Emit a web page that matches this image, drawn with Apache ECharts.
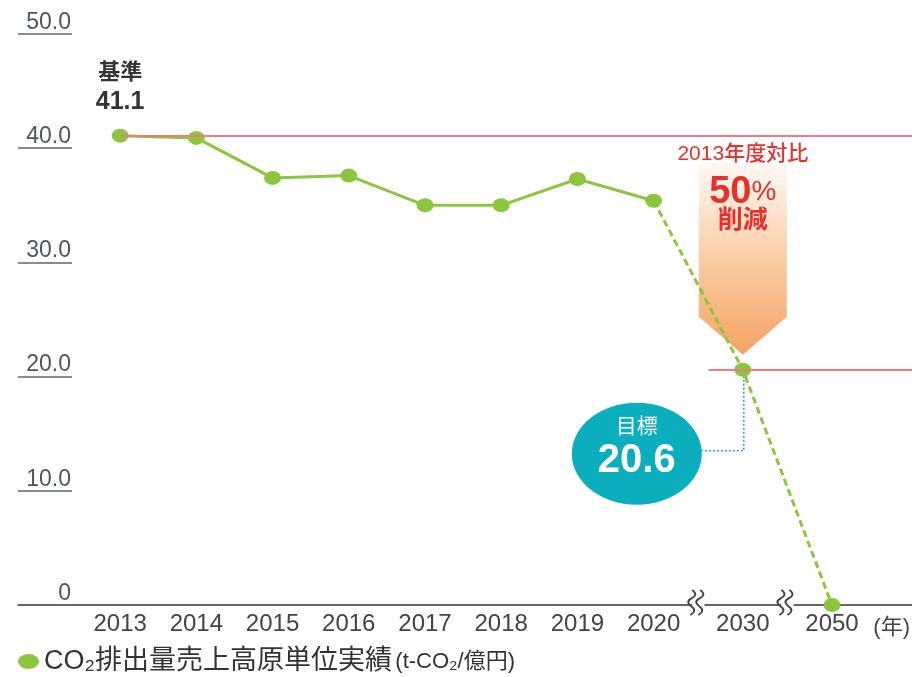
<!DOCTYPE html>
<html>
<head>
<meta charset="utf-8">
<script src="https://cdn.jsdelivr.net/npm/echarts@6/dist/echarts.min.js"></script>
<style>
html,body{margin:0;padding:0;background:#fff;}
#main{width:912px;height:677px;}
</style>
</head>
<body>
<div id="main"></div>
<script>
// ---- data ----
const actualYears = [2013, 2014, 2015, 2016, 2017, 2018, 2019, 2020];
const actualValues = [41.1, 40.9, 37.4, 37.6, 35.0, 35.0, 37.3, 35.4];
const targetYears = [2020, 2030, 2050];
const targetValues = [35.4, 20.6, 0];
const xTickYears = [2013, 2014, 2015, 2016, 2017, 2018, 2019, 2020, 2030, 2050];
const yTicks = [0, 10, 20, 30, 40, 50];
const axisBreaks = [[2020.5, 2029.5], [2030.5, 2049.5]];
const baseValue = 41.1;
const goalValue = 20.6;
const seriesName = 'CO₂排出量売上高原単位実績';
const unitText = '(t-CO₂/億円)';

const GREEN = '#8cc63f';
const RED = '#f27a7d';
const FONT = '"Liberation Sans", Arial, "Noto Sans CJK JP", sans-serif';

const chart = echarts.init(document.getElementById('main'));

const actualData = actualYears.map((y, i) => {
  if (i === 0) {
    return {
      value: [y, actualValues[i]],
      label: {
        show: true, position: 'top', distance: 12,
        formatter: '{a|基準}\n{b|' + actualValues[i].toFixed(1) + '}',
        rich: {
          a: {fontSize: 22, fontWeight: 'bold', color: '#333', fontFamily: FONT, lineHeight: 29, align: 'center'},
          b: {fontSize: 25, fontWeight: 'bold', color: '#333', fontFamily: FONT, lineHeight: 29, align: 'center'}
        }
      }
    };
  }
  return [y, actualValues[i]];
});
const targetData = targetYears.map((y, i) => i === 0 ? {value: [y, targetValues[i]], symbol: 'none'} : [y, targetValues[i]]);

const option = {
  animation: false,
  grid: {left: 18, right: 0, top: 34, bottom: 72, outerBoundsMode: 'none', containLabel: false},
  xAxis: {
    type: 'value',
    min: 2011.66, max: 2051.05,
    breaks: axisBreaks.map(b => ({start: b[0], end: b[1], gap: '1.45%'})),
    breakArea: {show: false},
    axisLine: {show: true, lineStyle: {color: '#333', width: 1.5}},
    axisTick: {show: false},
    splitLine: {show: false},
    axisLabel: {
      customValues: xTickYears,
      color: '#444', fontSize: 24, fontFamily: FONT, margin: 7,
      formatter: v => String(Math.round(v))
    },
    name: '(年)', nameLocation: 'end', nameGap: -2,
    nameTextStyle: {color: '#444', fontSize: 22, fontFamily: FONT, align: 'right', verticalAlign: 'top', padding: [12, 0, 0, 0]}
  },
  yAxis: {
    type: 'value', min: 0, max: 50, interval: 10,
    axisLine: {show: false},
    axisTick: {show: true, inside: true, length: 54, lineStyle: {color: '#666', width: 1.5}},
    splitLine: {show: false},
    axisLabel: {
      margin: -53, align: 'right', verticalAlign: 'bottom',
      color: '#4d5660', fontSize: 23, fontFamily: FONT,
      formatter: v => v === 0 ? '0' : v.toFixed(1)
    }
  },
  legend: {
    left: 18, top: 648, padding: 0,
    icon: 'path://M10,0A10,10,0,1,1,10,20A10,10,0,1,1,10,0Z', itemWidth: 21, itemHeight: 15, symbolKeepAspect: false,
    data: [seriesName],
    formatter: name => '{a|' + name + '} {b|' + unitText + '}',
    textStyle: {
      rich: {
        a: {fontSize: 27, color: '#333', fontFamily: FONT},
        b: {fontSize: 22, color: '#333', fontFamily: FONT}
      }
    }
  },
  series: [
    {
      type: 'line', name: 'ref', data: [], z: 1, silent: true,
      markLine: {
        symbol: 'none', silent: true, label: {show: false},
        lineStyle: {color: RED, width: 2, type: 'solid'},
        data: [
          [{coord: [actualYears[0], baseValue]}, {coord: [2051.05, baseValue]}],
          [{coord: [2029.55, goalValue]}, {coord: [2051.05, goalValue]}]
        ]
      }
    },
    {
      type: 'line', name: seriesName, data: actualData, z: 4,
      symbol: 'circle', symbolSize: [17, 14],
      itemStyle: {color: GREEN},
      lineStyle: {color: GREEN, width: 3}
    },
    {
      type: 'line', name: 'target', data: targetData, z: 4,
      symbol: 'circle', symbolSize: [17, 14],
      itemStyle: {color: GREEN},
      lineStyle: {color: GREEN, width: 3, type: [7, 4]}
    }
  ]
};
chart.setOption(option);

function px(x, y) { return chart.convertToPixel({seriesIndex: 1}, [x, y]); }

const goal = px(2030, goalValue);
const base = px(2030, baseValue);
const cx = goal[0];
const tipY = goal[1] - 15;
const headY = tipY - 38;
const topY = base[1] + 27;
const halfW = 44;

const bubbleC = [cx - 106, goal[1] + 84];
const p2020 = px(2020, 0), p2030 = px(2030, 0), p2050 = px(2050, 0);
const breakMids = [(p2020[0] + p2030[0]) / 2 - 3, (p2030[0] + p2050[0]) / 2 - 3];
const axisY = p2020[1];

function breakMark(mx) {
  const els = [{
    type: 'rect', shape: {x: mx - 3, y: axisY - 2, width: 6, height: 4},
    style: {fill: '#fff'}, z: 5
  }];
  [-4, 4].forEach(dx => {
    const x = mx + dx;
    els.push({
      type: 'polyline', z: 6,
      shape: {smooth: 0.5, points: [[x + 1, axisY - 15], [x + 4, axisY - 10], [x - 3, axisY - 3], [x + 3, axisY + 5], [x - 1, axisY + 10]]},
      style: {stroke: '#444', lineWidth: 2, fill: null}
    });
  });
  return els;
}

const graphics = [
  {
    type: 'polygon', z: 1,
    shape: {points: [[cx - halfW, topY], [cx + halfW, topY], [cx + halfW, headY], [cx, tipY], [cx - halfW, headY]]},
    style: {fill: new echarts.graphic.LinearGradient(0, 0, 0, 1, [
      {offset: 0, color: '#fffaf5'}, {offset: 0.5, color: '#f9cda5'}, {offset: 1, color: '#f4a262'}
    ])}
  },
  {
    type: 'text', z: 3, x: cx, y: topY - 8,
    style: {text: '2013年度対比', fill: '#e8302e', fontSize: 21, fontFamily: FONT, align: 'center', verticalAlign: 'middle', fontWeight: 500}
  },
  {
    type: 'text', z: 3, x: cx, y: topY + 30,
    style: {
      text: '{a|50}{b|%}', align: 'center', verticalAlign: 'middle',
      rich: {
        a: {fontSize: 38, fontWeight: 'bold', fill: '#e8302e', fontFamily: FONT},
        b: {fontSize: 28, fill: '#e8302e', fontFamily: FONT}
      }
    }
  },
  {
    type: 'text', z: 3, x: cx, y: topY + 58,
    style: {text: '削減', fill: '#e8302e', fontSize: 25, fontWeight: 'bold', fontFamily: FONT, align: 'center', verticalAlign: 'middle'}
  },
  {
    type: 'polyline', z: 3,
    shape: {points: [[bubbleC[0] + 64, goal[1] + 81], [cx + 1, goal[1] + 81], [cx + 1, goal[1] + 5]]},
    style: {stroke: '#19a9b8', lineWidth: 1.5, lineDash: [2, 2], fill: null}
  },
  {
    type: 'ellipse', z: 5,
    shape: {cx: bubbleC[0], cy: bubbleC[1], rx: 65, ry: 51},
    style: {fill: '#0aaebc'}
  },
  {
    type: 'text', z: 6, x: bubbleC[0], y: bubbleC[1] - 27,
    style: {text: '目標', fill: '#fff', fontSize: 21, fontFamily: FONT, align: 'center', verticalAlign: 'middle'}
  },
  {
    type: 'text', z: 6, x: bubbleC[0], y: bubbleC[1] + 7,
    style: {text: goalValue.toFixed(1), fill: '#fff', fontSize: 40, fontWeight: 'bold', fontFamily: FONT, align: 'center', verticalAlign: 'middle'}
  }
].concat(breakMark(breakMids[0]), breakMark(breakMids[1]));

chart.setOption({graphic: {elements: graphics}});
</script>
</body>
</html>
